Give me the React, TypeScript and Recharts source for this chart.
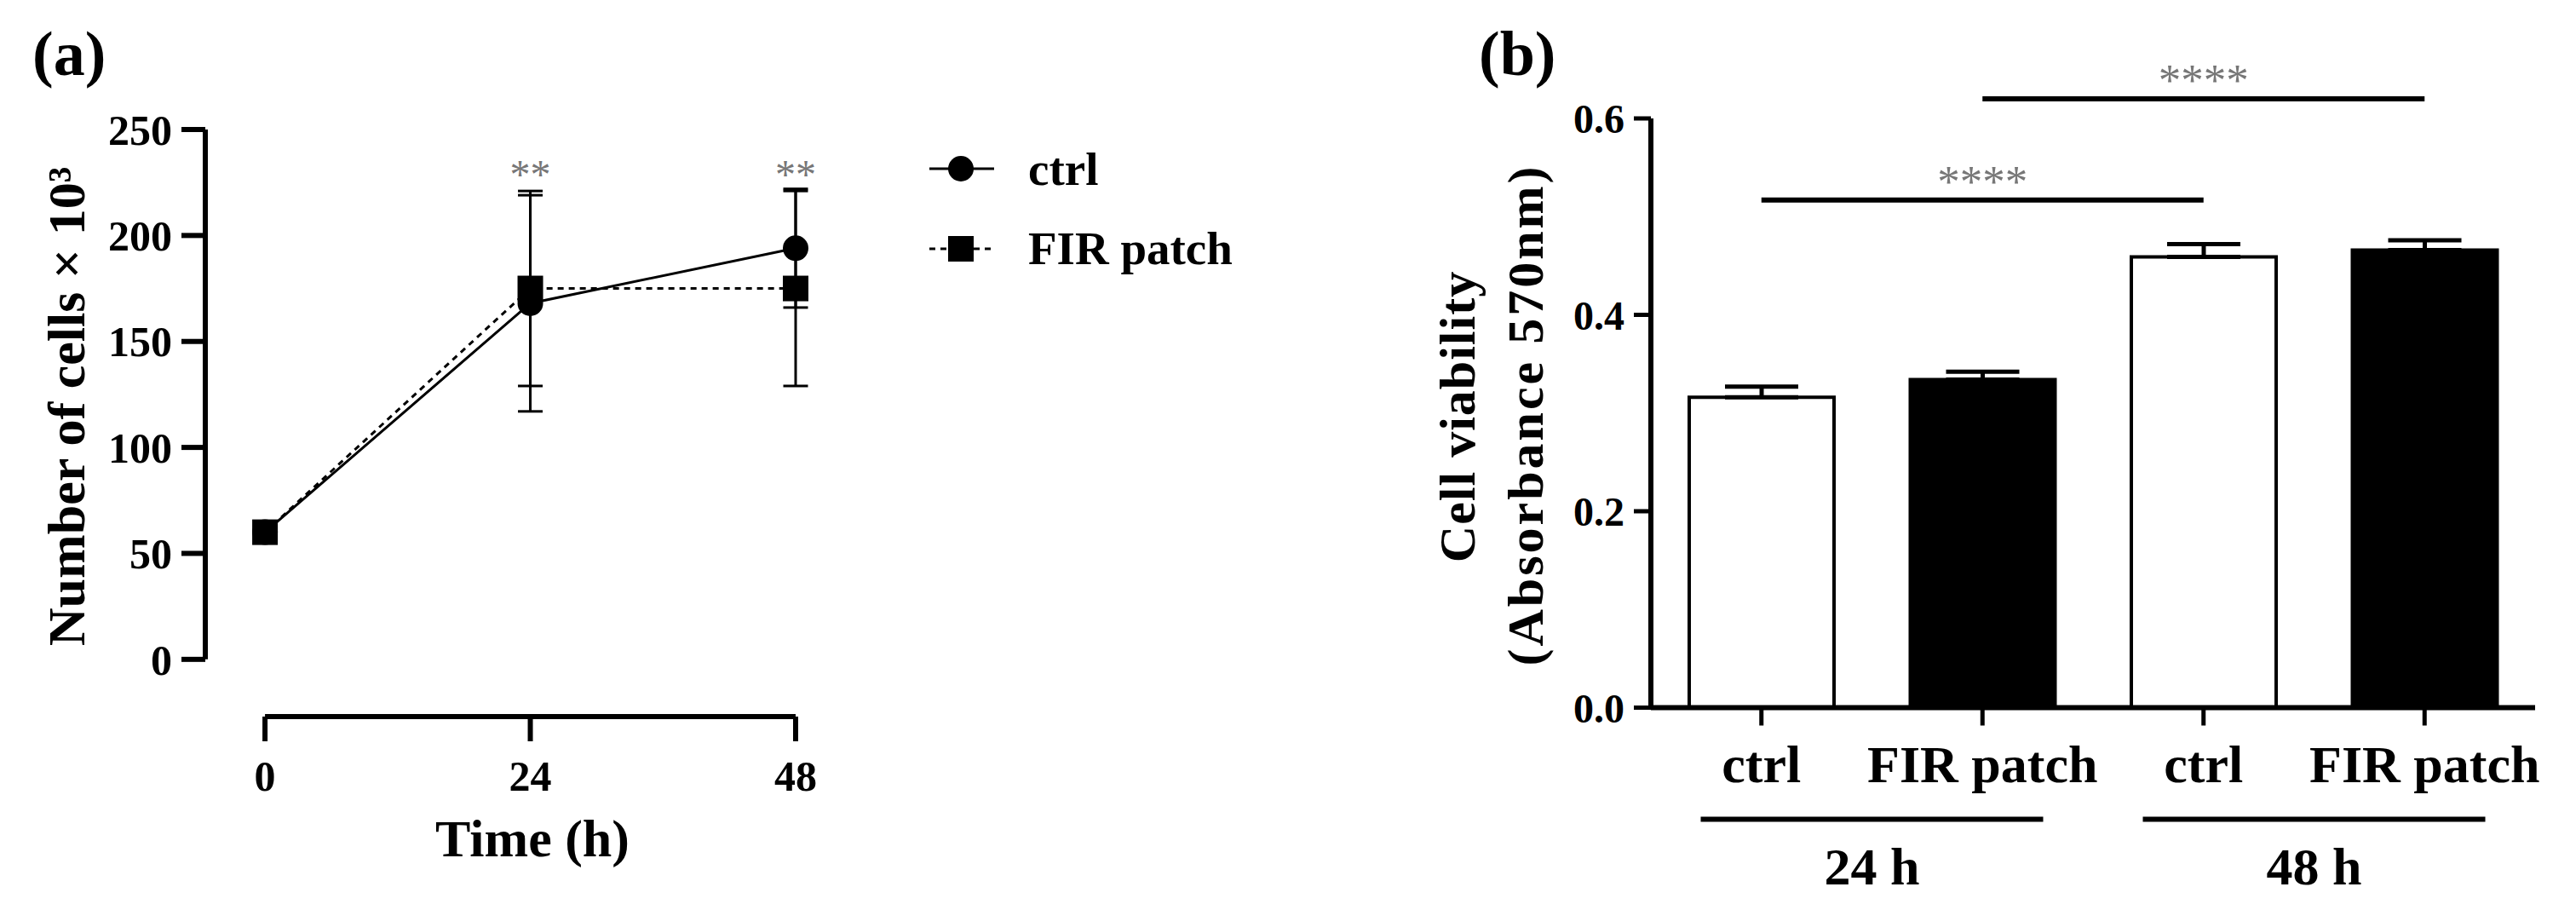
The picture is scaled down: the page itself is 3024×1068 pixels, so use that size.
import React from "react";
import {
  LineChart,
  Line,
  BarChart,
  Bar,
  Cell,
  XAxis,
  YAxis,
  ErrorBar,
  ReferenceLine,
  ReferenceDot,
  Legend,
} from "recharts";

const FONT = '"Liberation Serif", "Times New Roman", serif';

// ---- panel (a): cell counts over time ----
const times = [0, 24, 48];
const ctrlMean = [60, 168, 194];
const ctrlSd = [0, 51, 28];
const firMean = [60, 175, 175];
const firSd = [0, 46, 46];
const timeTicks = [0, 24, 48];
const countTicks = [0, 50, 100, 150, 200, 250];
const starTimes = [24, 48];
const starLevels = [229, 229];
const starMarks = ["**", "**"];

// ---- panel (b): viability bars ----
const barIds = ["ctrl-24", "fir-24", "ctrl-48", "fir-48"];
const barNames = ["ctrl", "FIR patch", "ctrl", "FIR patch"];
const barHours = ["24 h", "24 h", "48 h", "48 h"];
const viability = [0.316, 0.334, 0.459, 0.466];
const viabilitySem = [0.011, 0.008, 0.013, 0.01];
const barFills = ["#ffffff", "#000000", "#ffffff", "#000000"];
const viabilityTicks = [0, 0.2, 0.4, 0.6];
const comparisons = [
  { from: 0, to: 2, level: 0.517, mark: "****" },
  { from: 1, to: 3, level: 0.62, mark: "****" },
];

// axis offsets for the GraphPad-style detached axes in (a)
const A_X_MIN = -5.4;
const A_Y_MIN = -27;

const lineData = times.map((t, i) => ({
  t,
  ctrl: ctrlMean[i],
  ctrlErr: ctrlSd[i],
  fir: firMean[i],
  firErr: firSd[i],
}));

const barData = barIds.map((id, i) => ({
  id,
  hour: barHours[i],
  v: viability[i],
  err: [0, viabilitySem[i]],
}));

const nameById: Record<string, string> = Object.fromEntries(
  barIds.map((id, i) => [id, barNames[i]])
);

const SquareDot = (props: any) => {
  const { cx, cy, index } = props;
  if (cx == null || cy == null) return <g key={`sq-${index}`} />;
  return <rect key={`sq-${index}`} x={cx - 15} y={cy - 15} width={30} height={30} fill="#000" />;
};

const LegendBox = () => (
  <svg width={420} height={170} style={{ overflow: "visible" }}>
    <line x1={6} x2={82} y1={33} y2={33} stroke="#000" strokeWidth={3} />
    <circle cx={43} cy={33} r={15} fill="#000" />
    <text x={122} y={52} fontFamily={FONT} fontWeight={700} fontSize={55}>
      ctrl
    </text>
    <line x1={6} x2={82} y1={127} y2={127} stroke="#000" strokeWidth={3} strokeDasharray="7 6" />
    <rect x={28} y={112} width={30} height={30} fill="#000" />
    <text x={122} y={145} fontFamily={FONT} fontWeight={700} fontSize={55}>
      FIR patch
    </text>
  </svg>
);

const GroupTick = (props: any) => {
  const { x, y, payload } = props;
  return (
    <g>
      <line x1={x - 201} x2={x + 201} y1={y + 31} y2={y + 31} stroke="#000" strokeWidth={6} />
      <text x={x} y={y + 107} textAnchor="middle" fontFamily={FONT} fontWeight={700} fontSize={62}>
        {payload.value}
      </text>
    </g>
  );
};

export default function App() {
  const tickA = { fontSize: 50, fontWeight: 700, fill: "#000", fontFamily: FONT };
  const tickB = { fontSize: 48, fontWeight: 700, fill: "#000", fontFamily: FONT };

  return (
    <div style={{ position: "absolute", left: 0, top: 0, width: 3024, height: 1068, background: "#fff" }}>
      <div style={{ position: "absolute", left: 0, top: 0 }}>
        <LineChart width={1500} height={1068} data={lineData} margin={{ top: 152, right: 566, bottom: 0, left: 0 }}>
          <XAxis
            type="number"
            dataKey="t"
            domain={[A_X_MIN, 48]}
            ticks={timeTicks}
            axisLine={false}
            tickLine={{ stroke: "#000", strokeWidth: 6 }}
            tickSize={29}
            tickMargin={22}
            tick={tickA}
            height={227}
          />
          <YAxis
            type="number"
            domain={[A_Y_MIN, 250]}
            ticks={countTicks}
            axisLine={false}
            tickLine={{ stroke: "#000", strokeWidth: 6 }}
            tickSize={28}
            tickMargin={11}
            tick={tickA}
            width={241}
          />
          <ReferenceLine
            segment={[{ x: A_X_MIN, y: 0 }, { x: A_X_MIN, y: 250 }]}
            stroke="#000"
            strokeWidth={6}
            ifOverflow="visible"
          />
          <ReferenceLine
            segment={[{ x: 0, y: A_Y_MIN }, { x: 48, y: A_Y_MIN }]}
            stroke="#000"
            strokeWidth={6}
            ifOverflow="visible"
          />
          <Line
            dataKey="ctrl"
            name="ctrl"
            stroke="#000"
            strokeWidth={3}
            dot={{ r: 15, fill: "#000", stroke: "#000", strokeWidth: 0 }}
            isAnimationActive={false}
          >
            <ErrorBar dataKey="ctrlErr" direction="y" width={14.5} stroke="#000" strokeWidth={3} />
          </Line>
          <Line
            dataKey="fir"
            name="FIR patch"
            stroke="#000"
            strokeWidth={3}
            strokeDasharray="7 6"
            dot={SquareDot}
            isAnimationActive={false}
          >
            <ErrorBar dataKey="firErr" direction="y" width={14.5} stroke="#000" strokeWidth={3} />
          </Line>
          {starTimes.map((t, i) => (
            <ReferenceDot
              key={`star-${t}`}
              x={t}
              y={starLevels[i]}
              r={0}
              ifOverflow="visible"
              label={{ value: starMarks[i], position: "center", fill: "#777", fontSize: 48, fontFamily: FONT }}
            />
          ))}
          <Legend
            layout="vertical"
            align="center"
            verticalAlign="middle"
            content={() => <LegendBox />}
            wrapperStyle={{ position: "absolute", left: 1085, top: 165, width: 420, height: 170 }}
          />
        </LineChart>
      </div>

      <div style={{ position: "absolute", left: 1500, top: 0 }}>
        <BarChart width={1524} height={1068} data={barData} margin={{ top: 139, right: 48, bottom: 0, left: 0 }}>
          <XAxis
            xAxisId="b1"
            dataKey="hour"
            allowDuplicatedCategory={false}
            axisLine={false}
            tickLine={false}
            tickSize={0}
            tickMargin={0}
            interval={0}
            tick={GroupTick}
            height={137.5}
          />
          <XAxis
            xAxisId="a0"
            dataKey="id"
            interval={0}
            tickFormatter={(v: string) => nameById[v]}
            axisLine={{ stroke: "#000", strokeWidth: 6 }}
            tickLine={{ stroke: "#000", strokeWidth: 5 }}
            tickSize={21}
            tickMargin={22}
            tick={{ fontSize: 62, fontWeight: 700, fill: "#000", fontFamily: FONT }}
            height={100}
          />
          <YAxis
            domain={[0, 0.6]}
            ticks={viabilityTicks}
            tickFormatter={(v: number) => v.toFixed(1)}
            axisLine={{ stroke: "#000", strokeWidth: 6 }}
            tickLine={{ stroke: "#000", strokeWidth: 5 }}
            tickSize={20}
            tickMargin={11}
            tick={tickB}
            width={438}
          />
          <Bar xAxisId="a0" dataKey="v" barSize={170} stroke="#000" strokeWidth={4} isAnimationActive={false}>
            {barData.map((d, i) => (
              <Cell key={d.id} fill={barFills[i]} />
            ))}
            <ErrorBar dataKey="err" width={43} stroke="#000" strokeWidth={5} />
          </Bar>
          {comparisons.map((c) => (
            <ReferenceLine
              key={c.mark + c.from}
              xAxisId="a0"
              segment={[{ x: barIds[c.from], y: c.level }, { x: barIds[c.to], y: c.level }]}
              stroke="#000"
              strokeWidth={6}
              ifOverflow="visible"
              label={{ value: c.mark, position: "top", offset: 4, fill: "#777", fontSize: 53, fontFamily: FONT }}
            />
          ))}
        </BarChart>
      </div>

      <svg
        width={3024}
        height={1068}
        style={{ position: "absolute", left: 0, top: 0, pointerEvents: "none" }}
        fontFamily={FONT}
        fontWeight={700}
      >
        <text x={38} y={88} fontSize={74}>(a)</text>
        <text x={1736} y={88} fontSize={74}>(b)</text>
        <text x={625} y={1005} fontSize={62} textAnchor="middle">Time (h)</text>
        <text x={99} y={477} fontSize={62} textAnchor="middle" transform="rotate(-90 99 477)">
          Number of cells × 10³
        </text>
        <text x={1731} y={489} fontSize={60} letterSpacing={1} textAnchor="middle" transform="rotate(-90 1731 489)">
          Cell viability
        </text>
        <text x={1811} y={487} fontSize={60} letterSpacing={3} textAnchor="middle" transform="rotate(-90 1811 487)">
          (Absorbance 570nm)
        </text>
      </svg>
    </div>
  );
}
